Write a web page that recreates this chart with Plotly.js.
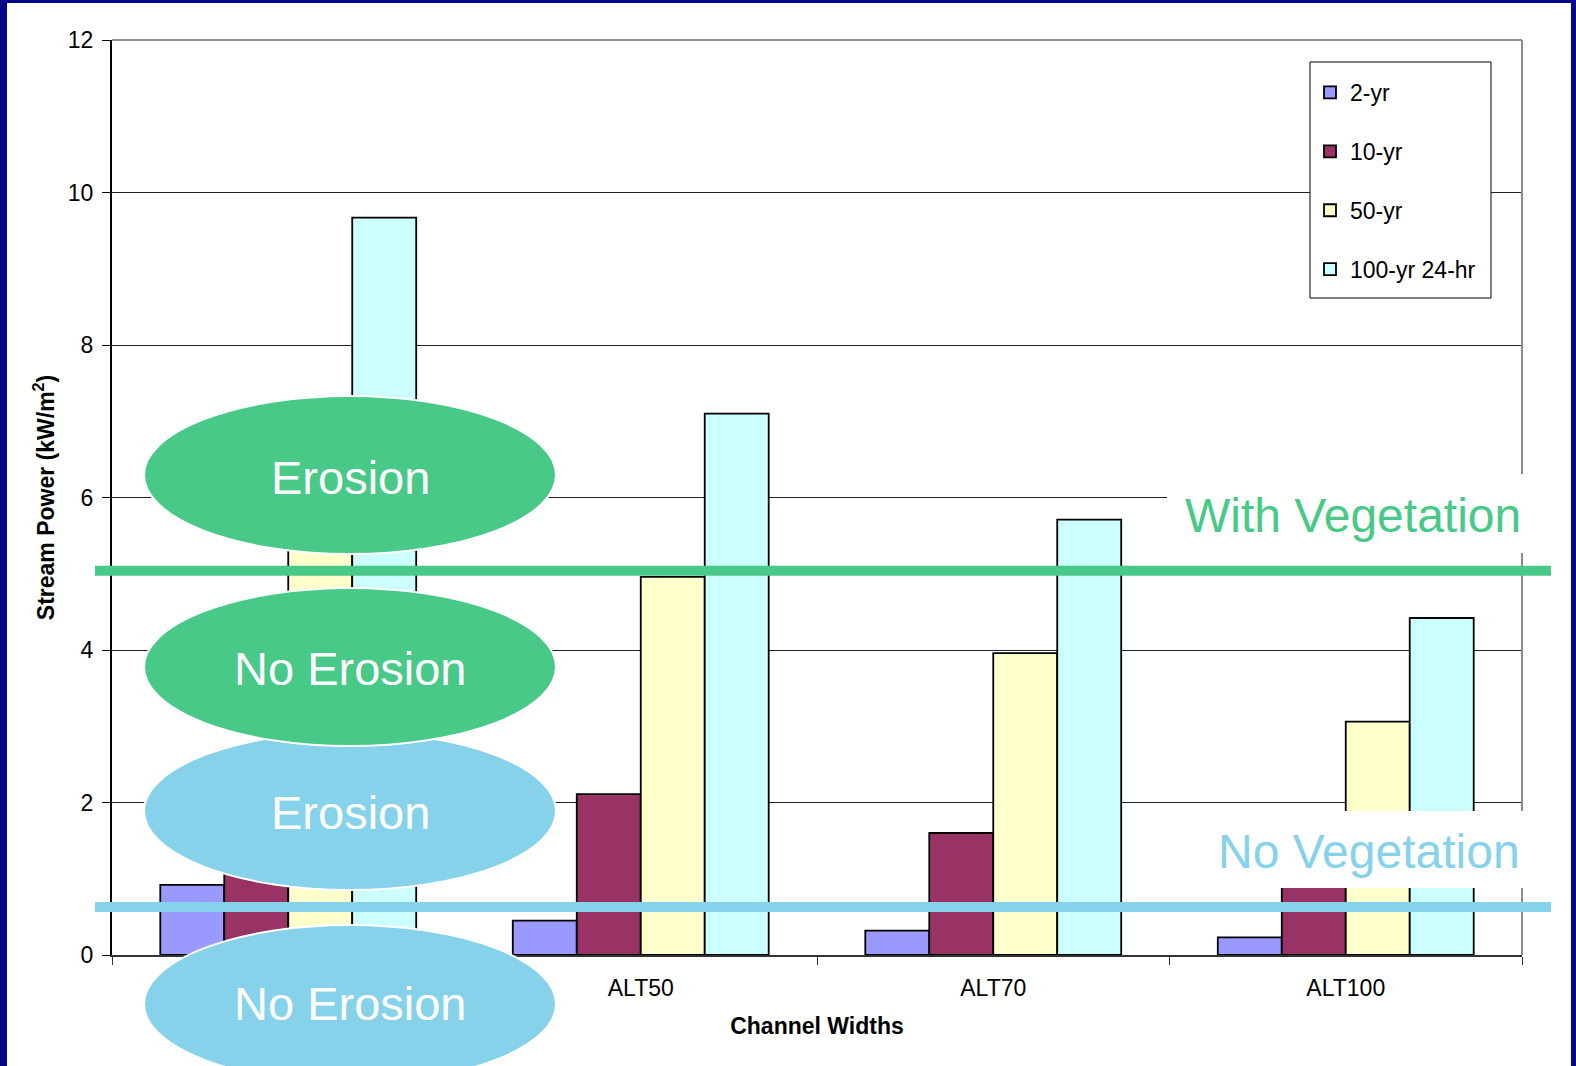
<!DOCTYPE html>
<html><head><meta charset="utf-8">
<script src="https://cdn.plot.ly/plotly-3.0.1.min.js"></script>
<style>
html,body{margin:0;padding:0;background:#07078c;width:1576px;height:1066px;overflow:hidden;}
#frame{position:absolute;left:7px;top:3px;width:1564px;height:1063px;background:#ffffff;}
#chart{position:absolute;left:0;top:0;width:1576px;height:1066px;}
</style></head><body>
<div id="frame"></div><div id="chart"></div>
<script>
// ---- data ----
const categories = ['ALT30', 'ALT50', 'ALT70', 'ALT100'];
const seriesNames = ['2-yr', '10-yr', '50-yr', '100-yr 24-hr'];
const twoYr = [0.92, 0.45, 0.32, 0.23];
const tenYr = [2.6, 2.11, 1.60, 1.20];
const fiftyYr = [6.7, 4.96, 3.96, 3.06];
const hundredYr = [9.67, 7.10, 5.71, 4.42];
const yTickVals = [0, 2, 4, 6, 8, 10, 12];
const withVegThreshold = 5.04;
const noVegThreshold = 0.63;
const zoneLabels = ['Erosion', 'No Erosion', 'Erosion', 'No Erosion'];
const thresholdLabels = ['With Vegetation', 'No Vegetation'];

// ---- styles ----
const seriesColors = ['#9999FF', '#993366', '#FFFFCC', '#CCFFFF'];
const green = 'rgb(72,201,135)';
const blue = 'rgb(135,210,235)';
const FONT = 'Arial, "Liberation Sans", sans-serif';

const seriesValues = [twoYr, tenYr, fiftyYr, hundredYr];
const traces = seriesValues.map((vals, i) => ({
  type: 'bar',
  name: seriesNames[i],
  x: categories,
  y: vals,
  legendgroup: 'g' + i,
  marker: {color: seriesColors[i], line: {color: '#000000', width: 1.8}},
  hoverinfo: 'x+y+name'
}));

// plot area in pixels: x 112..1522, y 40..955
const L = 112, R = 1522, T = 40, B = 955;
const px = v => (v - L) / (R - L);
const py = v => (B - v) / (B - T);

const shapes = [];
// plot border top & right (gray)
shapes.push({type: 'line', xref: 'paper', yref: 'paper', x0: 0, x1: 1, y0: 1, y1: 1, line: {color: '#8c8c8c', width: 2}, layer: 'above'});
shapes.push({type: 'line', xref: 'paper', yref: 'paper', x0: 1, x1: 1, y0: 0, y1: 1, line: {color: '#8c8c8c', width: 2}, layer: 'above'});
// legend box
shapes.push({type: 'rect', xref: 'paper', yref: 'paper', x0: px(1310), x1: px(1491), y0: py(298), y1: py(62), fillcolor: '#ffffff', line: {color: '#000000', width: 1}, layer: 'above'});
// threshold lines
shapes.push({type: 'line', xref: 'paper', yref: 'y', x0: px(95), x1: px(1551), y0: withVegThreshold, y1: withVegThreshold, line: {color: green, width: 10}, layer: 'above'});
shapes.push({type: 'line', xref: 'paper', yref: 'y', x0: px(95), x1: px(1551), y0: noVegThreshold, y1: noVegThreshold, line: {color: blue, width: 10}, layer: 'above'});
// white label boxes
shapes.push({type: 'rect', xref: 'paper', yref: 'paper', x0: px(1167), x1: px(1532), y0: py(553), y1: py(474), fillcolor: '#ffffff', line: {width: 0}, layer: 'above'});
shapes.push({type: 'rect', xref: 'paper', yref: 'paper', x0: px(1195), x1: px(1532), y0: py(888), y1: py(811), fillcolor: '#ffffff', line: {width: 0}, layer: 'above'});
// ellipses
const ex0 = px(144), ex1 = px(556);
const ellipses = [
  {c: blue, top: 732, bot: 890},
  {c: blue, top: 925, bot: 1083},
  {c: green, top: 588, bot: 746},
  {c: green, top: 396, bot: 554}
];
ellipses.forEach(e => shapes.push({type: 'circle', xref: 'paper', yref: 'paper', x0: ex0, x1: ex1, y0: py(e.bot), y1: py(e.top), fillcolor: e.c, line: {color: '#ffffff', width: 2}, layer: 'above'}));

const ecx = px(350);
const annotations = [
  {text: zoneLabels[0], y: py(477)},
  {text: zoneLabels[1], y: py(668)},
  {text: zoneLabels[2], y: py(812)},
  {text: zoneLabels[3], y: py(1004)}
].map(a => ({xref: 'paper', yref: 'paper', x: ecx, y: a.y, text: a.text, showarrow: false, xanchor: 'center', yanchor: 'middle', font: {family: FONT, size: 47, color: '#ffffff'}}));
annotations.push({xref: 'paper', yref: 'paper', x: px(1353), y: py(515), text: thresholdLabels[0], showarrow: false, xanchor: 'center', yanchor: 'middle', font: {family: FONT, size: 48, color: green}});
annotations.push({xref: 'paper', yref: 'paper', x: px(1369), y: py(851), text: thresholdLabels[1], showarrow: false, xanchor: 'center', yanchor: 'middle', font: {family: FONT, size: 48, color: blue}});

const layout = {
  width: 1576, height: 1066,
  margin: {l: L, r: 1576 - R, t: T, b: 1066 - B, pad: 0},
  paper_bgcolor: 'rgba(0,0,0,0)',
  plot_bgcolor: 'rgba(0,0,0,0)',
  font: {family: FONT, size: 23, color: '#000000'},
  barmode: 'group', bargap: 0.274, bargroupgap: 0,
  showlegend: true,
  legend: {
    x: px(1310), y: py(71), xanchor: 'left', yanchor: 'top',
    bgcolor: 'rgba(0,0,0,0)', borderwidth: 0,
    traceorder: 'grouped', tracegroupgap: 26,
    itemwidth: 30,
    font: {family: FONT, size: 23, color: '#000000'}
  },
  xaxis: {
    type: 'category', showgrid: false, zeroline: false,
    showline: true, linecolor: '#333333', linewidth: 2,
    ticks: 'outside', tickson: 'boundaries', ticklen: 8, tickcolor: '#333333', tickwidth: 1,
    ticklabelstandoff: 11,
    tickfont: {family: FONT, size: 23},
    title: {text: '<b>Channel Widths</b>', font: {family: FONT, size: 23}, standoff: 18}
  },
  yaxis: {
    range: [0, 12], tickvals: yTickVals, ticktext: yTickVals.map(String),
    showgrid: true, gridcolor: '#222222', gridwidth: 1, zeroline: false,
    showline: true, linecolor: '#000000', linewidth: 2,
    ticks: 'outside', ticklen: 8, tickcolor: '#000000', tickwidth: 1,
    ticklabelstandoff: 4,
    tickfont: {family: FONT, size: 23},
    title: {text: '<b>Stream Power (kW/m<sup>2</sup>)</b>', font: {family: FONT, size: 23}, standoff: 7}
  },
  shapes: shapes,
  annotations: annotations
};

Plotly.newPlot('chart', traces, layout, {displayModeBar: false, staticPlot: true});
</script>
</body></html>
